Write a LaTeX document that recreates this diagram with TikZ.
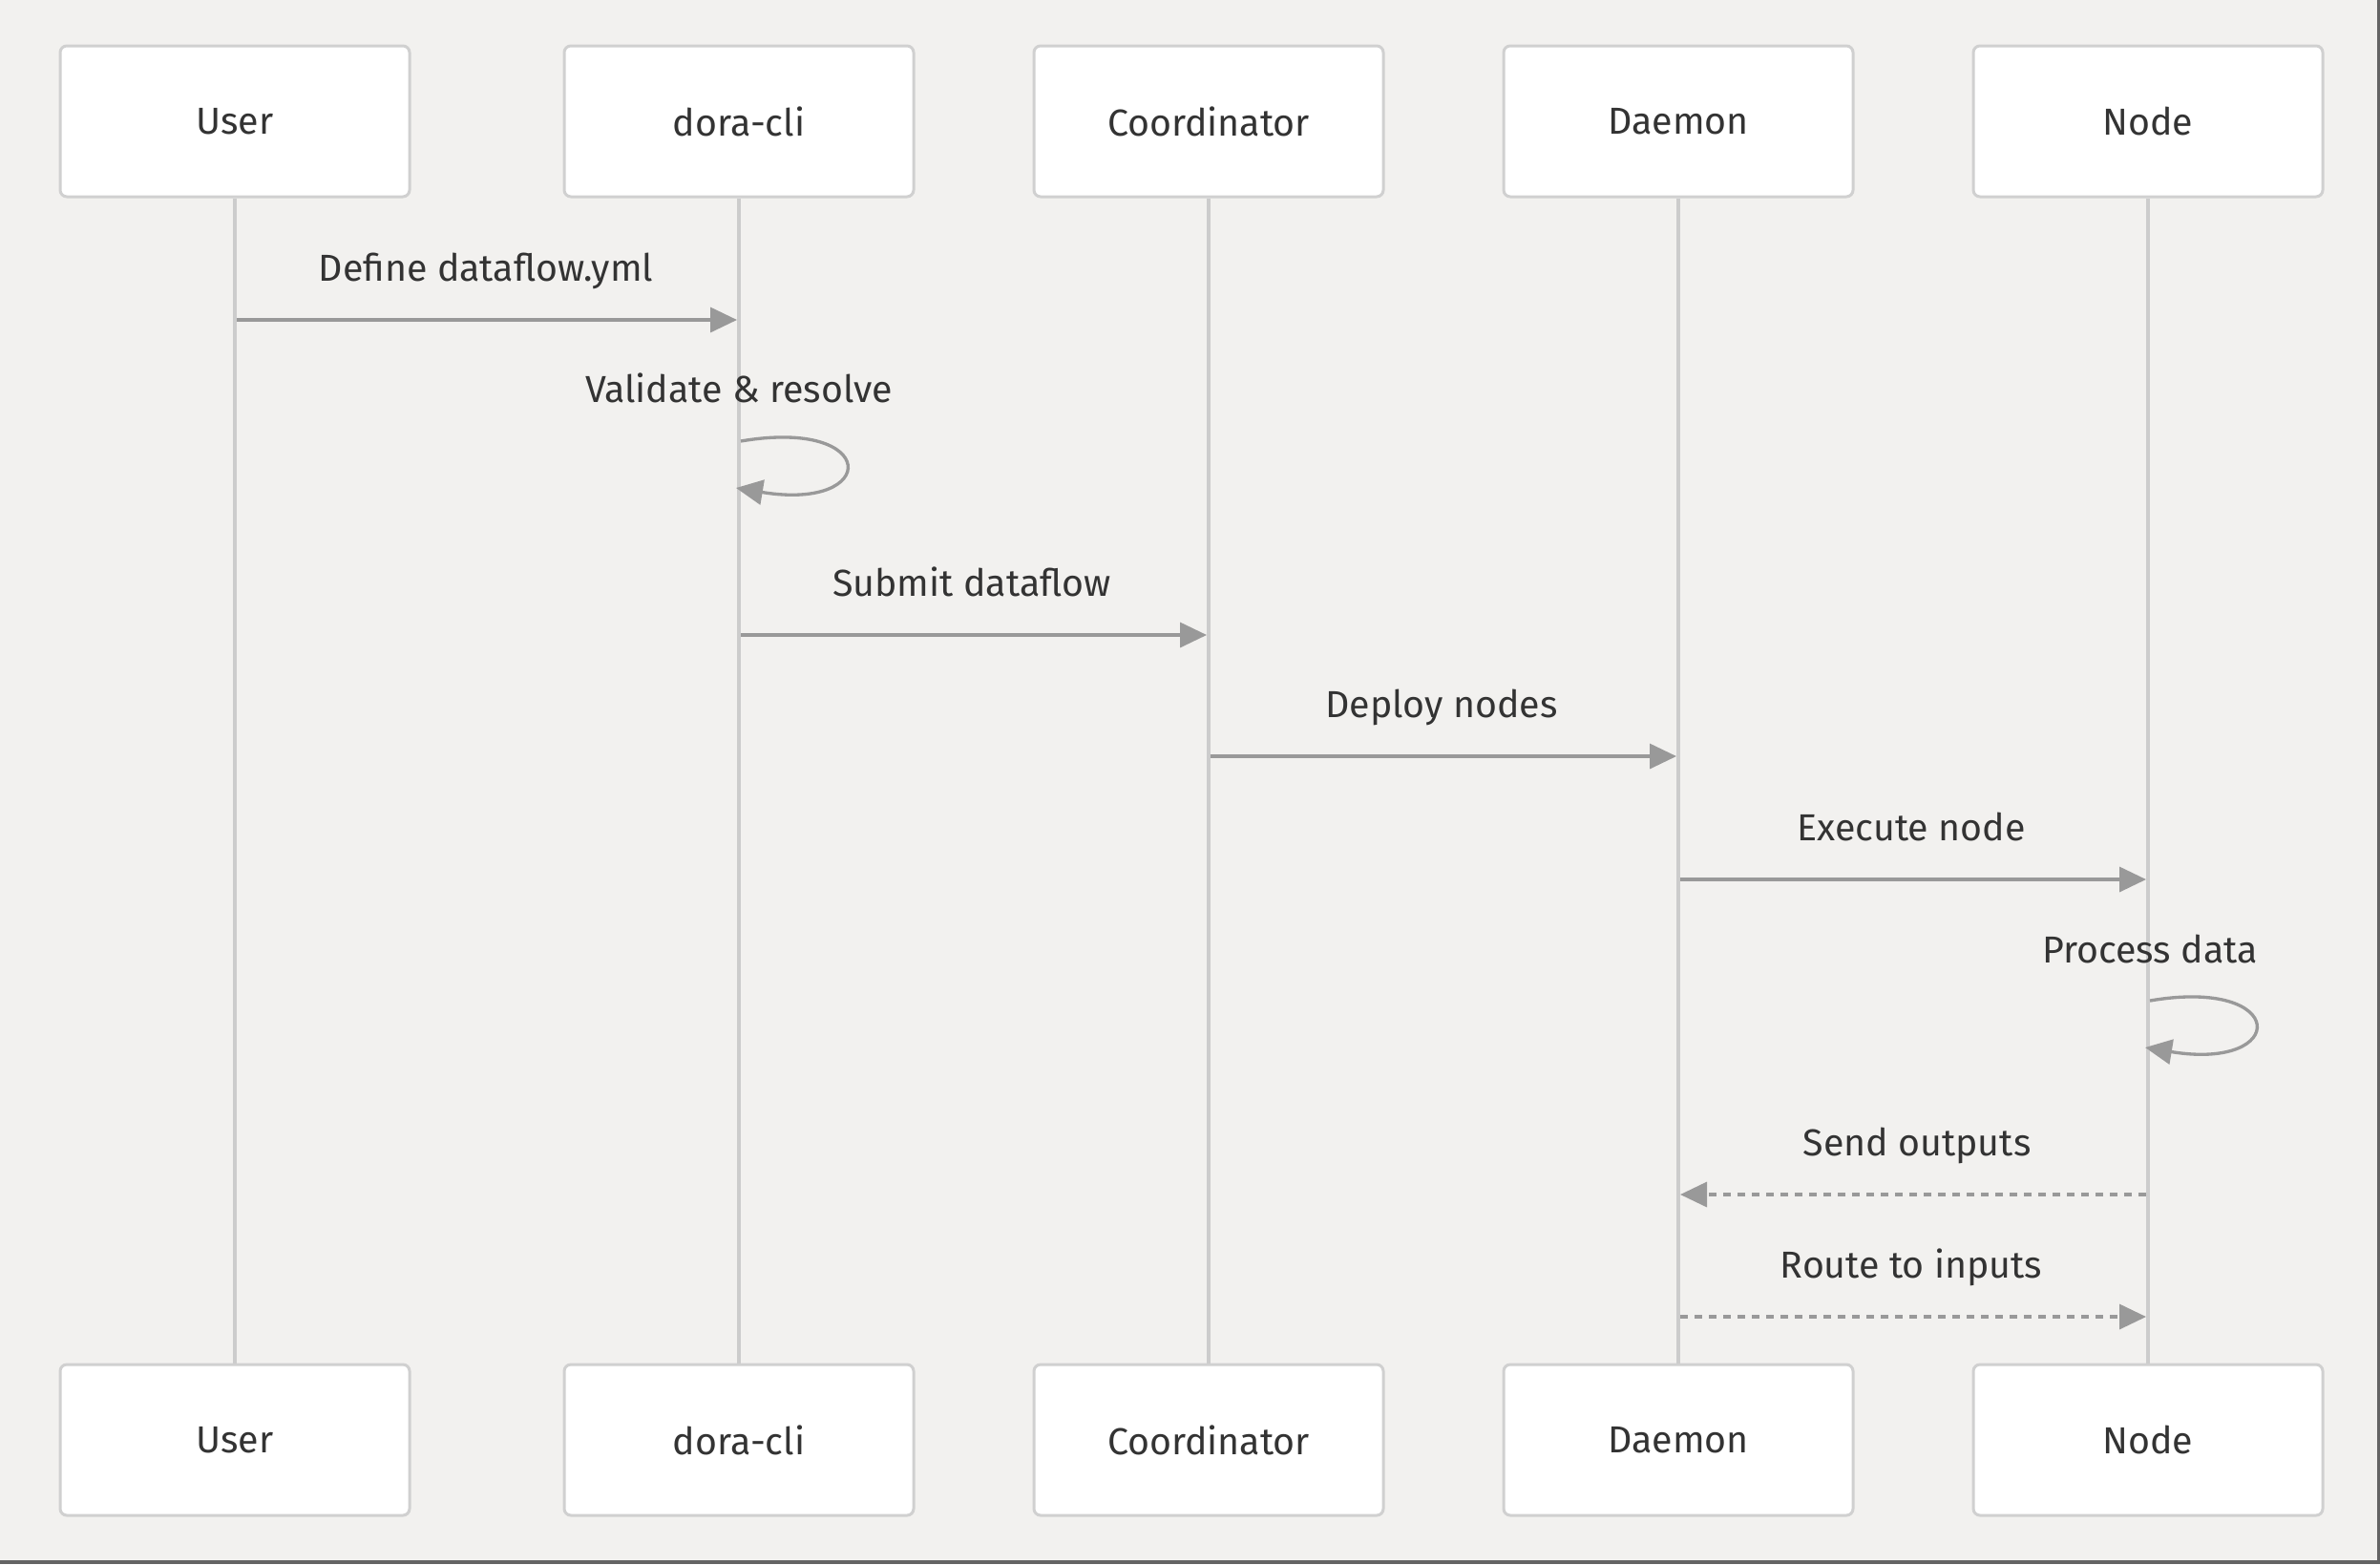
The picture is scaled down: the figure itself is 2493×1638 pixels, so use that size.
\documentclass[tikz,border=0pt]{standalone}
\usepackage{fontspec}
\setmainfont{Fira Sans}
\usetikzlibrary{arrows.meta}
\definecolor{bg}{RGB}{242,241,239}
\definecolor{boxline}{RGB}{208,208,208}
\definecolor{life}{RGB}{204,204,204}
\definecolor{sig}{RGB}{153,153,153}
\definecolor{txt}{RGB}{51,51,51}
\definecolor{framec}{RGB}{100,100,100}
\pgfdeclarelayer{bglayer}
\pgfdeclarelayer{midlayer}
\pgfsetlayers{bglayer,midlayer,main}
\begin{document}
\begin{tikzpicture}[x=0.3pt,y=-0.3pt,
  actor/.style={draw=boxline,line width=0.9pt,fill=white,rounded corners=2.1pt,
    minimum width=109.8pt,minimum height=47.4pt,inner sep=0pt,text=txt,
    font=\fontsize{11.8}{14}\selectfont},
  lifeline/.style={draw=life,line width=1.4pt},
  msg/.style={draw=sig,line width=1pt,-{Triangle[length=8.4pt,width=7.8pt]}},
  dmsg/.style={msg,dash pattern=on 2.5pt off 2pt},
  lbl/.style={anchor=base,text=txt,inner sep=0pt,font=\fontsize{11.8}{14}\selectfont}]
\useasboundingbox (0,0) rectangle (2493,1638);
\begin{pgfonlayer}{bglayer}
\fill[bg] (0,0) rectangle (2493,1638);
\fill[framec] (0,1634) rectangle (2493,1638);
\fill[framec] (2490,0) rectangle (2493,1638);
\end{pgfonlayer}

% actors
\foreach \n/\x/\t in {1/246/User,2/774/dora-cli,3/1266/Coordinator,4/1758/Daemon,5/2250/Node}{
  \node[actor] (t\n) at (\x,127) {\t};
  \node[actor] (b\n) at (\x,1508) {\t};
}
% lifelines
\begin{pgfonlayer}{midlayer}
\foreach \n in {1,...,5}{
  \draw[lifeline] (t\n.south) -- (b\n.north);
}
\end{pgfonlayer}

% message anchor coordinates
\coordinate (m1a) at (248,335);  \coordinate (m1b) at (772,335);
\coordinate (l2)  at (776,462);  \coordinate (l2e) at (771,511);
\coordinate (m3a) at (776,665);  \coordinate (m3b) at (1264,665);
\coordinate (m4a) at (1268,792); \coordinate (m4b) at (1756,792);
\coordinate (m5a) at (1760,921); \coordinate (m5b) at (2248,921);
\coordinate (l6)  at (2252,1048); \coordinate (l6e) at (2247,1097);
\coordinate (m7a) at (2248,1251); \coordinate (m7b) at (1760,1251);
\coordinate (m8a) at (1760,1379); \coordinate (m8b) at (2248,1379);

\draw[msg] (m1a) -- (m1b);
\node[lbl] (tx1) at (509,294) {Define dataflow.yml};

\draw[msg] (l2) .. controls (922,437) and (922,536) .. (l2e);
\node[lbl] (tx2) at (774,421) {Validate \& resolve};

\draw[msg] (m3a) -- (m3b);
\node[lbl] (tx3) at (1018,624) {Submit dataflow};

\draw[msg] (m4a) -- (m4b);
\node[lbl] (tx4) at (1510,751) {Deploy nodes};

\draw[msg] (m5a) -- (m5b);
\node[lbl] (tx5) at (2002,880) {Execute node};

\draw[msg] (l6) .. controls (2398,1023) and (2398,1122) .. (l6e);
\node[lbl] (tx6) at (2252,1008) {Process data};

\draw[dmsg] (m7a) -- (m7b);
\node[lbl] (tx7) at (2008,1210) {Send outputs};

\draw[dmsg] (m8a) -- (m8b);
\node[lbl] (tx8) at (2002,1338) {Route to inputs};
\end{tikzpicture}
\end{document}
